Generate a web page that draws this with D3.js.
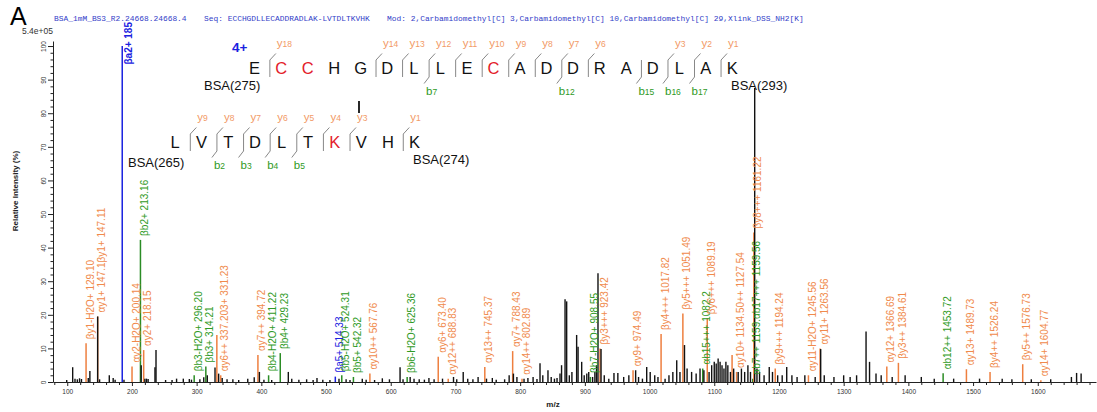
<!DOCTYPE html>
<html><head><meta charset="utf-8">
<script src="https://cdn.jsdelivr.net/npm/d3@7"></script>
<style>
body{margin:0;background:#fff}
svg{display:block}
</style>
</head><body>
<svg id="chart" width="1097" height="412"></svg>
<script>
// ---------- header ----------
const panelLetter = "A";
const runTitle = "BSA_1mM_BS3_R2.24668.24668.4";
const seqText = "Seq: ECCHGDLLECADDRADLAK-LVTDLTKVHK";
const modText = "Mod: 2,Carbamidomethyl[C] 3,Carbamidomethyl[C] 10,Carbamidomethyl[C] 29,Xlink_DSS_NH2[K]";
const maxIntensityText = "5.4e+05";
const precursorCharge = "4+";

// ---------- cross-linked peptides ----------
const alphaResidues = ["E","C","C","H","G","D","L","L","E","C","A","D","D","R","A","D","L","A","K"];
const alphaModified = [1, 2, 9];
const alphaYIons = [18, 14, 13, 12, 11, 10, 9, 8, 7, 6, 3, 2, 1];
const alphaBIons = [7, 12, 15, 16, 17];
const alphaEnds = ["BSA(275)", "BSA(293)"];

const betaResidues = ["L","V","T","D","L","T","K","V","H","K"];
const betaModified = [6];
const betaYIons = [9, 8, 7, 6, 5, 4, 3, 1];
const betaBIons = [2, 3, 4, 5];
const betaEnds = ["BSA(265)", "BSA(274)"];

// ---------- axes ----------
const xTickValues = [100,200,300,400,500,600,700,800,900,1000,1100,1200,1300,1400,1500,1600];
const yTickValues = [0,10,20,30,40,50,60,70,80,90,100];
const xTitle = "m/z";
const yTitle = "Relative  Intensity (%)";

// ---------- unmatched peaks ----------
const peakMz = [99.2,108.4,112,115.6,119,122,132.5,135,147.0,150,165,171,174,187.7,214.3,220,222.5,225,235.6,237.2,
  252,262,269,279.4,288.7,292,305,311,316.5,328.4,334,339.5,347,356,365,379,389,397,404,416,441.7,447,458,470,480,
  486,495,506,520,531,537,556,562,575,587,598,614.4,619,630,636,644,652,659,667,680,697,702,712,719,727,735,748,757,
  763,776,783,789.6,795,806,812,820,826,830.7,835,843,848,853,857,861.6,864,869.4,871.9,876,880,887.3,889.5,895.1,
  899,903,906,912,915.5,918,920.3,925,930,937,945,951,960,968,978.5,983,989,995.6,1001,1008,1013,1024,1030,1036,
  1042,1047,1054,1058,1065,1072,1078,1084,1092,1096,1100,1103,1106,1109,1112,1115,1118,1121,1125,1130,1137,1142,
  1147,1152,1156,1162.5,1166,1170,1177,1185,1190,1198,1205,1212,1220,1228,1240,1256,1264.5,1270,1285,1300,1310,
  1320,1334.6,1340,1350,1358,1375,1395,1420,1440,1470,1510,1545,1560,1590,1620,1652,1660,1667];
const peakIntensity = [0.6,4.4,1.0,0.8,1.1,0.9,1.2,3.3,19.5,0.8,2.0,1.2,0.7,0.7,5.0,1.0,1.0,0.9,4.4,9.5,
  0.6,0.6,1.0,1.0,0.9,0.7,0.8,1.4,2.0,4.3,2.5,1.2,0.8,0.8,0.6,1.0,1.4,3.0,0.7,0.6,3.0,1.0,0.7,0.8,0.6,
  1.2,0.7,0.6,1.0,0.8,0.6,1.0,0.7,0.6,1.1,0.8,4.4,0.8,1.5,1.0,0.8,0.7,1.2,0.8,1.0,1.5,0.8,3.0,1.0,0.8,1.5,1.0,1.2,
  0.7,0.8,2.0,2.5,1.5,1.0,1.2,1.5,0.9,5.6,2.0,3.5,1.5,1.0,1.2,2.5,5.0,24.6,24.0,2.0,3.0,14.0,10.5,6.0,
  2.0,2.5,3.0,1.5,3.0,5.0,32.4,9.8,2.0,1.0,2.7,2.7,1.5,2.0,3.5,1.5,1.0,4.5,3.0,2.0,1.5,1.0,2.0,3.0,
  6.5,3.0,11.0,4.0,3.0,2.5,4.0,3.5,3.0,5.0,6.0,5.5,7.0,6.0,5.0,4.0,6.0,5.0,3.0,4.0,3.0,4.0,
  3.0,5.0,3.0,87.5,4.0,3.0,2.0,4.5,3.0,2.0,2.0,4.5,2.0,1.5,2.0,1.5,9.8,2.0,1.5,2.0,1.5,
  2.0,15.0,6.0,2.5,2.0,1.5,2.0,1.5,1.0,1.0,1.0,1.0,0.8,0.8,0.8,1.5,2.7,2.5];

// ---------- matched fragment ions ----------
const ionMz = [129.10,147.11,185,200.14,213.16,218.15,296.20,314.21,331.23,337.20,394.72,411.22,429.23,514.33,
  524.31,542.32,567.76,625.36,673.40,688.83,745.37,788.43,802.89,908.55,923.42,974.49,1017.82,1051.49,1082.2,
  1089.19,1127.54,1134.50,1159.56,1161.22,1194.24,1245.56,1263.56,1366.69,1384.61,1453.72,1489.73,1526.24,1576.73,1604.77];
const ionIntensity = [11.5,19.5,100,4.6,42.3,9.5,2.0,4.6,14.0,2.0,8.0,2.0,8.6,1.6,
  2.0,1.5,2.5,1.5,7.5,1.0,4.5,9.2,1.0,1.5,10.0,3.5,14.3,20.4,4.0,
  19.0,8.0,3.0,1.0,44.5,4.0,2.0,10.0,4.6,5.7,2.6,3.8,3.0,5.3,0.5];
const ionLabel = ["βy1-H2O+ 129.10","αy1+ 147.1βy1+ 147.11","βa2+ 185","αy2-H2O+ 200.14","βb2+ 213.16","αy2+ 218.15",
  "βb3-H2O+ 296.20","βb3+ 314.21","","αy6++ 337.203+ 331.23","αy7++ 394.72","βb4-H2O+ 411.22","βb4+ 429.23","βa5+ 514.33",
  "βb5-H2O+ 524.31","βb5+ 542.32","αy10++ 567.76","βb6-H2O+ 625.36","αy6+ 673.40","αy12++ 688.83","αy13++ 745.37",
  "αy7+ 788.43","αy14++ 802.89","βb7-H2O+ 908.55","βy3+++ 923.42","αy9+ 974.49","βy4+++ 1017.82","βy5+++ 1051.49",
  "αb15+++ 1082.2","βy6+++ 1089.19","","αy10+ 1134.50++ 1127.54","αb7++ 1159.αb17+++ 1159.56","βy8+++ 1161.22",
  "βy9+++ 1194.24","αy11-H2O+ 1245.56","αy11+ 1263.56","αy12+ 1366.69","βy3++ 1384.61","αb12++ 1453.72","αy13+ 1489.73",
  "βy4++ 1526.24","βy5++ 1576.73","αy14+ 1604.77"];
const ionSeries = ["y","y","a","y","b","y","b","b","y","y","y","b","b","a",
  "b","b","y","b","y","y","y","y","y","b","y","y","y","y","b",
  "y","y","y","b","y","y","y","y","y","y","b","y","y","y","y"];

// ---------- drawing ----------
const seriesColor = {y: "#ee7f3f", b: "#2b8c25", a: "#1a22e0"};
const svg = d3.select("#chart");
const font = "'Liberation Sans', Arial, sans-serif";

const x = d3.scaleLinear().domain([78, 1690]).range([53, 1096]);
const y = d3.scaleLinear().domain([0, 101.5]).range([382, 41]);

// header
svg.append("text").attr("x", 10).attr("y", 25).attr("font-family", font).attr("font-size", 25).text(panelLetter);
const headerFont = "'Liberation Mono', 'Courier New', monospace";
[[runTitle, 54], [seqText, 204], [modText, 387]].forEach(([t, px]) => {
  svg.append("text").attr("x", px).attr("y", 21).attr("font-family", headerFont).attr("font-size", 7.9)
    .attr("fill", "#3340c8").text(t);
});
svg.append("text").attr("x", 22).attr("y", 34).attr("font-family", font).attr("font-size", 8.5)
  .attr("fill", "#333").text(maxIntensityText);

// axes
const xAxis = svg.append("g").attr("transform", "translate(0,382)")
  .call(d3.axisBottom(x).tickValues(xTickValues).tickFormat(d3.format("d")).tickSize(4).tickSizeOuter(0).tickPadding(3));
const xMinor = d3.range(80, 1690, 20).filter(v => v % 100 !== 0);
svg.append("g").attr("transform", "translate(0,382)")
  .call(d3.axisBottom(x).tickValues(xMinor).tickSize(3).tickFormat("")).select(".domain").remove();
xAxis.selectAll("text").attr("font-family", font).attr("font-size", 6.5).attr("fill", "#333");

const yAxis = svg.append("g").attr("transform", "translate(53,0)")
  .call(d3.axisLeft(y).tickValues(yTickValues).tickSize(5).tickSizeOuter(0));
const yMinor = d3.range(2, 101, 2).filter(v => v % 10 !== 0);
svg.append("g").attr("transform", "translate(53,0)")
  .call(d3.axisLeft(y).tickValues(yMinor).tickSize(2.5).tickFormat("")).select(".domain").remove();
yAxis.selectAll(".tick text").each(function(){
  d3.select(this).attr("font-family", font).attr("font-size", 6.5).attr("fill", "#333")
    .attr("text-anchor", "middle").attr("transform", "translate(-9,0) rotate(-90)")
    .attr("x", 0).attr("y", 0).attr("dy", "0.35em");
});
svg.selectAll(".domain, .tick line").attr("stroke", "#222");

svg.append("text").attr("x", 553).attr("y", 407).attr("text-anchor", "middle").attr("font-family", font)
  .attr("font-size", 8).attr("font-weight", "bold").attr("fill", "#222").text(xTitle);
svg.append("text").attr("transform", "translate(18,191) rotate(-90)").attr("text-anchor", "middle")
  .attr("font-family", font).attr("font-size", 8).attr("font-weight", "bold").attr("fill", "#222").text(yTitle);

// matched peaks (drawn beneath the raw peaks)
const ions = ionMz.map((m, i) => ({mz: m, v: ionIntensity[i], label: ionLabel[i], s: ionSeries[i]}));
svg.append("g").selectAll("line").data(ions).join("line")
  .attr("x1", d => x(d.mz)).attr("x2", d => x(d.mz))
  .attr("y1", y(0)).attr("y2", d => y(d.v))
  .attr("stroke", d => seriesColor[d.s]).attr("stroke-width", 1.5);

// raw peaks
const peaks = peakMz.map((m, i) => ({mz: m, v: peakIntensity[i]}));
svg.append("g").selectAll("line").data(peaks).join("line")
  .attr("x1", d => x(d.mz)).attr("x2", d => x(d.mz))
  .attr("y1", y(0)).attr("y2", d => y(d.v))
  .attr("stroke", "#111").attr("stroke-width", 1.4);

// ion labels, rotated, standing on their peaks
const labelG = svg.append("g");
ions.filter(d => d.label).forEach(d => {
  const isBase = d.v >= 100;
  const t = labelG.append("text").attr("font-family", font).attr("font-size", 10)
    .attr("font-weight", isBase ? "bold" : "normal")
    .attr("fill", d.s === "a" ? seriesColor.a : (d.s === "b" ? "#2f9a25" : "#f08a4c")).text(d.label);
  const len = t.node().getComputedTextLength();
  let base = y(d.v) - 4;
  let dx = 7.5;
  if (base - len < 22) { base = 22 + len; dx = 10; }
  t.attr("transform", `translate(${x(d.mz) + dx},${base}) rotate(-90)`);
});

// ---------- peptide diagram ----------
function drawPeptide(residues, modified, yIons, bIons, x0, baseline, pitch) {
  const g = svg.append("g");
  const n = residues.length;
  const cx = i => x0 + i * pitch;
  residues.forEach((r, i) => {
    g.append("text").attr("x", cx(i)).attr("y", baseline).attr("text-anchor", "middle")
      .attr("font-family", font).attr("font-size", 16.5)
      .attr("fill", modified.includes(i) ? "#e3202a" : "#111").text(r);
  });
  const cuts = new Set([...yIons.map(k => n - k), ...bIons]);
  cuts.forEach(c => {
    const bx = (cx(c - 1) + cx(c)) / 2 + 2;
    g.append("line").attr("x1", bx).attr("x2", bx).attr("y1", baseline - 14).attr("y2", baseline + 3)
      .attr("stroke", "#888").attr("stroke-width", 1);
  });
  yIons.forEach(k => {
    const bx = (cx(n - k - 1) + cx(n - k)) / 2 + 2;
    g.append("line").attr("x1", bx).attr("x2", bx + 6).attr("y1", baseline - 14).attr("y2", baseline - 20.5)
      .attr("stroke", "#888").attr("stroke-width", 1);
    const t = g.append("text").attr("x", bx + 7).attr("y", baseline - 27).attr("font-family", font)
      .attr("fill", "#f29a66");
    t.append("tspan").attr("font-size", 11.5).text("y");
    t.append("tspan").attr("font-size", 8.5).text(k);
  });
  bIons.forEach(k => {
    const bx = (cx(k - 1) + cx(k)) / 2 + 2;
    g.append("line").attr("x1", bx).attr("x2", bx - 5).attr("y1", baseline + 3).attr("y2", baseline + 9.5)
      .attr("stroke", "#888").attr("stroke-width", 1);
    const t = g.append("text").attr("x", bx - 3).attr("y", baseline + 21).attr("font-family", font)
      .attr("fill", "#2f9a25");
    t.append("tspan").attr("font-size", 11.5).text("b");
    t.append("tspan").attr("font-size", 8.5).text(k);
  });
  return g;
}

drawPeptide(alphaResidues, alphaModified, alphaYIons, alphaBIons, 254.6, 74, 26.54);
drawPeptide(betaResidues, betaModified, betaYIons, betaBIons, 175, 148, 26.62);

const endText = (t, px, py) => svg.append("text").attr("x", px).attr("y", py).attr("font-family", font)
  .attr("font-size", 13).attr("fill", "#111").text(t);
endText(alphaEnds[0], 204, 90);
endText(alphaEnds[1], 731, 90);
endText(betaEnds[0], 128, 167);
endText(betaEnds[1], 413, 164);

svg.append("text").attr("x", 232).attr("y", 52).attr("font-family", font).attr("font-size", 13.5)
  .attr("font-weight", "bold").attr("fill", "#1a22e0").text(precursorCharge);

// cross-link between the two lysines
svg.append("line").attr("x1", 359).attr("x2", 359).attr("y1", 101).attr("y2", 113)
  .attr("stroke", "#111").attr("stroke-width", 1.8);
</script>
</body></html>
